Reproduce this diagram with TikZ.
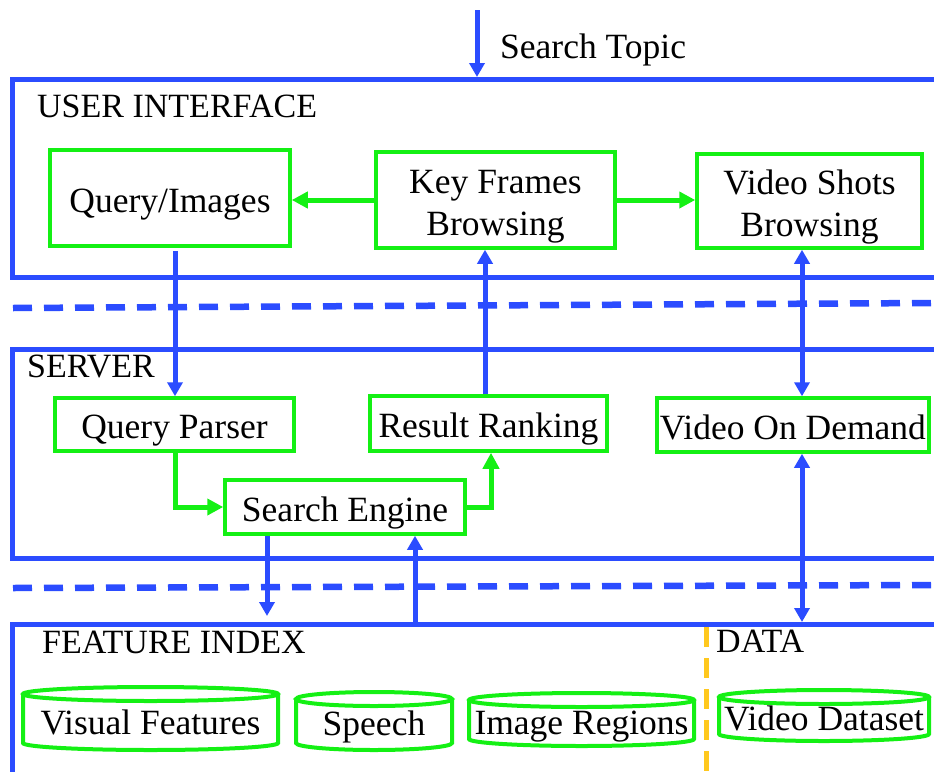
\documentclass[tikz,border=0pt]{standalone}
\usepackage{fontspec}
\setmainfont{Liberation Serif}
\usetikzlibrary{arrows.meta}

\definecolor{frameblue}{RGB}{43,76,255}
\definecolor{boxgreen}{RGB}{20,240,20}
\definecolor{dataorange}{RGB}{255,200,30}

% storage drum: name, left x, right x, top y, bottom y, baseline y, label
\newcommand\drum[7]{%
  \draw[store] ({(#2+#3)/2},{-#4-7}) ellipse[x radius={(#3-#2)/2}, y radius=7];
  \draw[store] (#2,{-#4-7}) -- (#2,{-#5+7})
     arc[start angle=180, end angle=360, x radius={(#3-#2)/2}, y radius=7]
     -- (#3,{-#4-7});
  \node[anchor=base, inner sep=0pt] (#1) at ({(#2+#3)/2},-#6) {#7};
}

\begin{document}
\begin{tikzpicture}[x=1pt, y=1pt,
  font=\fontsize{35.5}{42}\selectfont,
  frame/.style={draw=frameblue, line width=4.5pt, rectangle, inner sep=0pt, anchor=north west},
  box/.style={draw=boxgreen, line width=3.5pt, rectangle, inner sep=1pt},
  module/.style={box, text height=30pt, text depth=2pt},
  panel/.style={box, align=center},
  store/.style={draw=boxgreen, line width=4pt},
  flow/.style={draw=frameblue, line width=5pt, -{Triangle[length=14pt,width=15pt]}},
  twoway/.style={draw=frameblue, line width=5pt,
     {Triangle[length=14pt,width=15pt]}-{Triangle[length=14pt,width=15pt]}},
  gflow/.style={draw=boxgreen, line width=5pt, -{Triangle[length=16pt,width=16pt]}},
  tier/.style={draw=frameblue, line width=6.5pt, dash pattern=on 19pt off 12pt},
  split/.style={draw=dataorange, line width=5pt, dash pattern=on 20pt off 11pt},
  caption/.style={anchor=base west, inner sep=0pt, font=\fontsize{34}{40}\selectfont}]

\useasboundingbox (0,0) rectangle (934,-771);
\clip (0,0) rectangle (934,-771);

% tiers
\node[frame, minimum width=950pt, minimum height=198pt] (ui) at (10,-77) {};
\node[frame, minimum width=950pt, minimum height=209pt] (srv) at (10,-347) {};
\node[frame, minimum width=950pt, minimum height=200pt] (fi) at (10,-622) {};

\node[caption] (uilabel) at (37,-117) {USER INTERFACE};
\node[caption] (srvlabel) at (27,-377) {SERVER};
\node[caption] (filabel) at (42,-653) {FEATURE INDEX};
\node[caption] (datalabel) at (716,-652) {DATA};
\node[anchor=base west, inner sep=0pt] (topic) at (500,-58) {Search Topic};

% tier separators
\draw[tier] (13,-308) -- (934,-303);
\draw[tier] (13,-588) -- (934,-585);
\draw[split] (706,-627) -- (706,-771);

% user interface modules
\node[module, minimum width=240pt, minimum height=96pt] (qi) at (170,-198) {Query/Images};
\node[panel, minimum width=239pt, minimum height=96pt] (kf) at (495.5,-200)
  {\rule{0pt}{36pt}Key Frames\\Browsing};
\node[panel, minimum width=225pt, minimum height=94pt] (vs) at (809.5,-201)
  {\rule{0pt}{36pt}Video Shots\\Browsing};

% server modules
\node[module, minimum width=239pt, minimum height=53pt] (qp) at (174.5,-424.5) {Query Parser};
\node[module, minimum width=237pt, minimum height=55pt] (rr) at (488.5,-423.5) {Result Ranking};
\node[module, minimum width=272pt, minimum height=54pt] (vod) at (793,-425) {Video On Demand};
\node[module, minimum width=240pt, minimum height=54pt] (se) at (345,-507) {Search Engine};

% feature index and data stores
\drum{vf}{23}{278}{687}{750}{734}{Visual Features}
\drum{sp}{296}{452}{692}{750}{735}{Speech}
\drum{ir}{469}{694}{693}{746}{734}{Image Regions}
\drum{vd}{719}{929}{690}{741}{730}{Video Dataset}

% connector columns
\coordinate (top) at (477,-10);
\coordinate (c1) at (175,0);
\coordinate (c2) at (485,0);
\coordinate (c2b) at (491,0);
\coordinate (c3) at (802,0);
\coordinate (c4) at (267,0);
\coordinate (c5) at (415,0);

% connectors
\draw[flow] (top) -- (top |- ui.north);
\draw[gflow] (kf.west) -- (kf.west -| qi.east);
\draw[gflow] (kf.east) -- (kf.east -| vs.west);
\draw[flow] ([yshift=-3pt]qi.south -| c1) -- (qp.north -| c1);
\draw[flow] (rr.north -| c2) -- (kf.south -| c2);
\draw[twoway] (vs.south -| c3) -- (vod.north -| c3);
\draw[gflow] (qp.south -| c1) |- (se.west);
\draw[gflow] (se.east) -| (rr.south -| c2b);
\draw[flow, shorten >=6pt] (se.south -| c4) -- (fi.north -| c4);
\draw[flow] (fi.north -| c5) -- (se.south -| c5);
\draw[twoway] (vod.south -| c3) -- (fi.north -| c3);

\end{tikzpicture}
\end{document}
